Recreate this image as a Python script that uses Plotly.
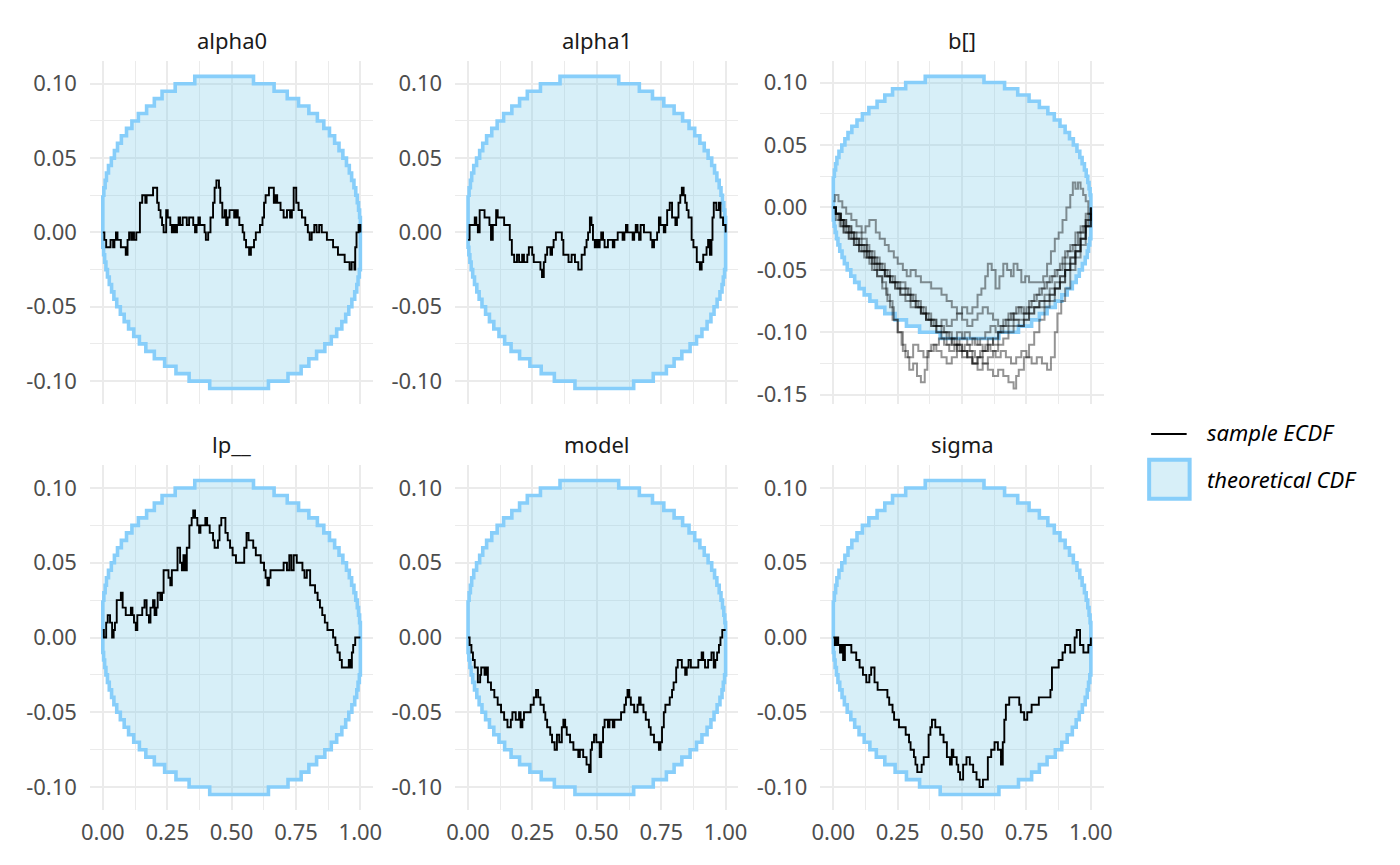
import plotly.graph_objects as go

# ---------------- data ----------------
panel_names = ["alpha0", "alpha1", "b[]", "lp__", "model", "sigma"]

# theoretical CDF band (step start x, level)
band_upper_x = [0.000, 0.004, 0.009, 0.014, 0.022, 0.033, 0.045, 0.057, 0.072, 0.092,
                0.113, 0.138, 0.170, 0.200, 0.230, 0.281, 0.357, 0.585, 0.665, 0.716,
                0.760, 0.800, 0.833, 0.858, 0.880, 0.900, 0.917, 0.932, 0.946, 0.957,
                0.966, 0.975, 0.982, 0.988, 0.993, 0.997]
band_upper_y = [0.025, 0.030, 0.035, 0.040, 0.045, 0.050, 0.055, 0.060, 0.065, 0.070,
                0.075, 0.080, 0.085, 0.090, 0.095, 0.100, 0.105, 0.100, 0.095, 0.090,
                0.085, 0.080, 0.075, 0.070, 0.065, 0.060, 0.055, 0.050, 0.045, 0.040,
                0.035, 0.030, 0.025, 0.020, 0.015, 0.010]
band_lower_x = [0.000, 0.003, 0.007, 0.012, 0.018, 0.025, 0.034, 0.043, 0.054, 0.068,
                0.083, 0.100, 0.120, 0.142, 0.167, 0.200, 0.240, 0.284, 0.335, 0.415,
                0.643, 0.719, 0.770, 0.800, 0.830, 0.862, 0.887, 0.908, 0.928, 0.943,
                0.955, 0.967, 0.978, 0.986, 0.991, 0.996]
band_lower_y = [-0.010, -0.015, -0.020, -0.025, -0.030, -0.035, -0.040, -0.045, -0.050, -0.055,
                -0.060, -0.065, -0.070, -0.075, -0.080, -0.085, -0.090, -0.095, -0.100, -0.105,
                -0.100, -0.095, -0.090, -0.085, -0.080, -0.075, -0.070, -0.065, -0.060, -0.055,
                -0.050, -0.045, -0.040, -0.035, -0.030, -0.025]

alpha0_x = [0, 0.006, 0.013, 0.030, 0.040, 0.045, 0.051, 0.057, 0.070, 0.089, 0.096, 0.102,
            0.110, 0.115, 0.121, 0.130, 0.144, 0.153, 0.165, 0.170, 0.195, 0.211, 0.217,
            0.224, 0.230, 0.236, 0.246, 0.252, 0.262, 0.268, 0.275, 0.281, 0.288, 0.294,
            0.300, 0.310, 0.326, 0.335, 0.351, 0.358, 0.364, 0.371, 0.377, 0.395, 0.400,
            0.409, 0.418, 0.428, 0.434, 0.441, 0.451, 0.456, 0.464, 0.473, 0.479, 0.485,
            0.492, 0.510, 0.517, 0.524, 0.530, 0.543, 0.549, 0.556, 0.568, 0.575, 0.587,
            0.594, 0.610, 0.620, 0.626, 0.632, 0.645, 0.664, 0.670, 0.677, 0.690, 0.702,
            0.715, 0.727, 0.734, 0.741, 0.751, 0.760, 0.773, 0.786, 0.796, 0.803, 0.811,
            0.821, 0.830, 0.840, 0.850, 0.870, 0.894, 0.913, 0.939, 0.958, 0.966, 0.977,
            0.980, 0.985, 0.993, 1.0]
alpha0_y = [0, -0.005, -0.01, -0.005, -0.01, -0.005, 0.0, -0.005, -0.01, -0.015, -0.005, 0.0,
            -0.005, 0.0, -0.005, 0.0, 0.02, 0.025, 0.02, 0.025, 0.03, 0.02, 0.015,
            0.01, 0.005, 0.0, 0.015, 0.01, 0.005, 0.0, 0.005, 0.0, 0.005, 0.01,
            0.005, 0.01, 0.005, 0.01, 0.005, 0.0, 0.005, 0.01, 0.005, 0.0, -0.005,
            0.0, 0.01, 0.02, 0.03, 0.035, 0.03, 0.02, 0.01, 0.015, 0.005, 0.01,
            0.015, 0.01, 0.015, 0.01, 0.005, 0.0, -0.005, -0.01, -0.015, -0.01, -0.005,
            0.0, 0.005, 0.01, 0.02, 0.025, 0.03, 0.02, 0.025, 0.02, 0.015, 0.01,
            0.015, 0.01, 0.015, 0.03, 0.02, 0.015, 0.01, 0.005, 0.0, -0.005, 0.0,
            0.005, 0.0, 0.005, 0.0, -0.005, -0.01, -0.015, -0.02, -0.025, -0.02, -0.025,
            -0.01, 0.0, 0.005, 0.0]

alpha1_x = [0, 0.006, 0.026, 0.032, 0.038, 0.045, 0.064, 0.083, 0.089, 0.096, 0.109, 0.115,
            0.140, 0.162, 0.170, 0.179, 0.190, 0.198, 0.210, 0.217, 0.230, 0.236, 0.249,
            0.255, 0.281, 0.287, 0.294, 0.300, 0.307, 0.320, 0.326, 0.332, 0.341, 0.364,
            0.370, 0.390, 0.402, 0.415, 0.428, 0.441, 0.453, 0.460, 0.466, 0.473, 0.479,
            0.485, 0.492, 0.498, 0.504, 0.511, 0.517, 0.524, 0.530, 0.543, 0.562, 0.568,
            0.581, 0.600, 0.607, 0.613, 0.619, 0.639, 0.645, 0.651, 0.658, 0.664, 0.670,
            0.683, 0.709, 0.715, 0.722, 0.734, 0.741, 0.747, 0.760, 0.766, 0.773, 0.783,
            0.792, 0.805, 0.811, 0.817, 0.824, 0.830, 0.837, 0.843, 0.849, 0.856, 0.868,
            0.875, 0.888, 0.900, 0.907, 0.913, 0.926, 0.932, 0.939, 0.945, 0.949, 0.954,
            0.964, 0.974, 0.980, 0.990, 1.0]
alpha1_y = [-0.005, 0.005, 0.01, 0.005, 0.0, 0.015, 0.01, 0.005, -0.005, 0.005, 0.015, 0.01,
            0.005, -0.005, -0.015, -0.02, -0.015, -0.02, -0.015, -0.02, -0.015, -0.01, -0.015,
            -0.02, -0.025, -0.03, -0.02, -0.015, -0.01, -0.015, -0.01, -0.005, 0.0, -0.005,
            -0.015, -0.02, -0.015, -0.02, -0.025, -0.015, -0.01, -0.005, 0.0, 0.01, 0.005,
            -0.005, -0.01, -0.005, -0.01, -0.005, 0.0, -0.005, -0.01, -0.005, -0.01, -0.005,
            0.0, -0.005, 0.0, 0.005, 0.0, -0.005, 0.0, 0.005, 0.0, -0.005, 0.005,
            0.0, -0.005, -0.01, -0.005, 0.0, 0.01, 0.005, 0.0, 0.005, 0.015, 0.02,
            0.01, 0.005, 0.01, 0.02, 0.025, 0.03, 0.025, 0.02, 0.015, 0.01, -0.005,
            -0.01, -0.02, -0.025, -0.02, -0.015, -0.01, -0.005, -0.015, -0.005, 0.01, 0.02,
            0.015, 0.02, 0.01, 0.005, 0.0]

lp_x = [0, 0.004, 0.013, 0.019, 0.028, 0.036, 0.042, 0.047, 0.054, 0.070, 0.077, 0.089,
        0.109, 0.115, 0.121, 0.128, 0.134, 0.153, 0.162, 0.170, 0.179, 0.185, 0.195,
        0.201, 0.208, 0.213, 0.223, 0.230, 0.236, 0.255, 0.262, 0.268, 0.290, 0.300,
        0.307, 0.313, 0.319, 0.326, 0.336, 0.345, 0.351, 0.358, 0.367, 0.374, 0.379,
        0.398, 0.405, 0.415, 0.428, 0.434, 0.447, 0.453, 0.460, 0.476, 0.485, 0.494,
        0.504, 0.517, 0.549, 0.558, 0.566, 0.584, 0.594, 0.613, 0.626, 0.632, 0.639,
        0.645, 0.651, 0.702, 0.715, 0.724, 0.732, 0.741, 0.753, 0.775, 0.783, 0.792,
        0.805, 0.824, 0.834, 0.843, 0.852, 0.862, 0.872, 0.894, 0.903, 0.911, 0.920,
        0.928, 0.955, 0.962, 0.967, 0.972, 0.980, 1.0]
lp_y = [0.005, 0.0, 0.01, 0.015, 0.01, 0.0, 0.005, 0.01, 0.025, 0.03, 0.02, 0.015,
        0.02, 0.015, 0.01, 0.005, 0.015, 0.02, 0.025, 0.015, 0.01, 0.02, 0.025,
        0.015, 0.02, 0.03, 0.025, 0.03, 0.045, 0.04, 0.035, 0.045, 0.06, 0.05,
        0.045, 0.055, 0.045, 0.06, 0.075, 0.08, 0.085, 0.08, 0.075, 0.07, 0.075,
        0.08, 0.075, 0.07, 0.065, 0.06, 0.065, 0.075, 0.08, 0.07, 0.065, 0.06,
        0.055, 0.05, 0.06, 0.07, 0.065, 0.06, 0.055, 0.05, 0.045, 0.04, 0.035,
        0.04, 0.045, 0.05, 0.045, 0.055, 0.045, 0.055, 0.05, 0.045, 0.04, 0.045,
        0.035, 0.03, 0.025, 0.02, 0.015, 0.01, 0.005, 0.0, -0.005, -0.01, -0.015,
        -0.02, -0.015, -0.02, -0.01, -0.005, 0.0, 0.0]

model_x = [0, 0.006, 0.013, 0.019, 0.026, 0.038, 0.047, 0.051, 0.064, 0.070, 0.077, 0.089,
           0.102, 0.115, 0.128, 0.140, 0.153, 0.166, 0.172, 0.185, 0.198, 0.204, 0.211,
           0.217, 0.243, 0.255, 0.264, 0.272, 0.281, 0.294, 0.300, 0.307, 0.319, 0.326,
           0.336, 0.345, 0.354, 0.364, 0.370, 0.377, 0.383, 0.396, 0.409, 0.428, 0.434,
           0.447, 0.460, 0.470, 0.476, 0.481, 0.489, 0.498, 0.511, 0.517, 0.524, 0.530,
           0.543, 0.549, 0.562, 0.568, 0.594, 0.607, 0.613, 0.619, 0.626, 0.632, 0.645,
           0.658, 0.664, 0.670, 0.681, 0.690, 0.702, 0.709, 0.722, 0.741, 0.747, 0.753,
           0.760, 0.766, 0.783, 0.792, 0.798, 0.808, 0.814, 0.830, 0.843, 0.849, 0.856,
           0.865, 0.894, 0.907, 0.913, 0.920, 0.932, 0.945, 0.954, 0.960, 0.967, 0.974,
           0.980, 0.987, 1.0]
model_y = [0.0, -0.005, -0.01, -0.015, -0.02, -0.03, -0.025, -0.02, -0.025, -0.02, -0.03, -0.035,
           -0.04, -0.045, -0.05, -0.055, -0.06, -0.055, -0.05, -0.055, -0.05, -0.06, -0.055,
           -0.05, -0.045, -0.04, -0.035, -0.04, -0.045, -0.05, -0.055, -0.06, -0.065, -0.07,
           -0.075, -0.065, -0.07, -0.06, -0.055, -0.06, -0.065, -0.07, -0.075, -0.08, -0.075,
           -0.08, -0.085, -0.09, -0.075, -0.07, -0.065, -0.07, -0.08, -0.07, -0.06, -0.055,
           -0.06, -0.055, -0.06, -0.055, -0.05, -0.045, -0.04, -0.035, -0.04, -0.045, -0.05,
           -0.045, -0.04, -0.045, -0.05, -0.055, -0.06, -0.065, -0.07, -0.075, -0.07, -0.06,
           -0.05, -0.045, -0.04, -0.035, -0.03, -0.02, -0.015, -0.02, -0.025, -0.02, -0.015,
           -0.02, -0.015, -0.01, -0.015, -0.02, -0.015, -0.01, -0.02, -0.015, -0.01, -0.005,
           0.0, 0.005, 0.005]

sigma_x = [0, 0.006, 0.013, 0.019, 0.026, 0.032, 0.038, 0.045, 0.070, 0.089, 0.102, 0.115,
           0.128, 0.140, 0.147, 0.160, 0.172, 0.210, 0.217, 0.230, 0.236, 0.255, 0.281,
           0.294, 0.300, 0.313, 0.319, 0.326, 0.343, 0.351, 0.370, 0.377, 0.383, 0.396,
           0.415, 0.428, 0.441, 0.453, 0.460, 0.466, 0.479, 0.485, 0.492, 0.504, 0.517,
           0.530, 0.543, 0.556, 0.568, 0.581, 0.600, 0.613, 0.626, 0.639, 0.651, 0.658,
           0.664, 0.670, 0.683, 0.722, 0.728, 0.741, 0.753, 0.770, 0.798, 0.843, 0.849,
           0.875, 0.890, 0.900, 0.920, 0.937, 0.945, 0.958, 0.971, 0.990, 1.0]
sigma_y = [0.0, -0.005, 0.0, -0.005, -0.01, -0.005, -0.015, -0.005, -0.01, -0.015, -0.02, -0.025,
           -0.03, -0.025, -0.02, -0.03, -0.035, -0.04, -0.045, -0.05, -0.055, -0.06, -0.065,
           -0.07, -0.075, -0.08, -0.085, -0.09, -0.085, -0.08, -0.065, -0.06, -0.055, -0.06,
           -0.065, -0.07, -0.08, -0.085, -0.075, -0.08, -0.085, -0.09, -0.095, -0.085, -0.08,
           -0.085, -0.09, -0.095, -0.1, -0.095, -0.08, -0.075, -0.07, -0.075, -0.085, -0.07,
           -0.055, -0.045, -0.04, -0.045, -0.05, -0.055, -0.05, -0.045, -0.04, -0.035, -0.02,
           -0.015, -0.01, -0.005, -0.01, 0.0, 0.005, -0.005, -0.01, -0.005, 0.0]

# b[] : several sample ECDF lines
b_x1 = [0, 0.006, 0.02, 0.035, 0.05, 0.07, 0.09, 0.11, 0.125, 0.14, 0.153, 0.165, 0.18,
        0.2, 0.215, 0.235, 0.25, 0.27, 0.285, 0.3, 0.32, 0.34, 0.36, 0.38, 0.4, 0.42,
        0.44, 0.46, 0.48, 0.5, 0.52, 0.54, 0.56, 0.575, 0.59, 0.6, 0.615, 0.63, 0.645,
        0.66, 0.675, 0.69, 0.7, 0.715, 0.73, 0.745, 0.76, 0.78, 0.8, 0.815, 0.83, 0.845,
        0.86, 0.875, 0.89, 0.905, 0.92, 0.93, 0.94, 0.95, 0.96, 0.97, 0.98, 0.99, 1.0]
b_y1 = [0.005, 0.01, 0.005, 0.0, -0.005, -0.01, -0.015, -0.02, -0.015, -0.01, -0.01, -0.02, -0.025,
        -0.03, -0.035, -0.04, -0.045, -0.05, -0.055, -0.05, -0.055, -0.06, -0.06, -0.065, -0.065, -0.07,
        -0.075, -0.08, -0.085, -0.08, -0.085, -0.08, -0.07, -0.065, -0.055, -0.045, -0.05, -0.065, -0.055,
        -0.045, -0.05, -0.055, -0.045, -0.05, -0.06, -0.055, -0.06, -0.06, -0.06, -0.055, -0.045, -0.035,
        -0.025, -0.02, -0.01, 0.0, 0.01, 0.02, 0.015, 0.02, 0.015, 0.01, 0.005, -0.005, -0.01]
b_x2 = [0, 0.01, 0.03, 0.05, 0.07, 0.09, 0.11, 0.13, 0.15, 0.17, 0.19, 0.205, 0.22, 0.235,
        0.25, 0.265, 0.28, 0.295, 0.31, 0.325, 0.34, 0.355, 0.365, 0.38, 0.4, 0.42, 0.44,
        0.46, 0.48, 0.5, 0.52, 0.54, 0.56, 0.58, 0.6, 0.62, 0.64, 0.66, 0.68, 0.7, 0.72,
        0.74, 0.76, 0.78, 0.8, 0.82, 0.84, 0.86, 0.88, 0.9, 0.92, 0.94, 0.96, 0.98, 1.0]
b_y2 = [0, -0.005, -0.01, -0.015, -0.02, -0.025, -0.03, -0.04, -0.045, -0.055, -0.06, -0.07, -0.08, -0.09,
        -0.1, -0.11, -0.12, -0.13, -0.125, -0.135, -0.14, -0.13, -0.115, -0.11, -0.115, -0.12, -0.125,
        -0.12, -0.11, -0.115, -0.12, -0.125, -0.12, -0.115, -0.105, -0.11, -0.1, -0.095, -0.09, -0.085, -0.08,
        -0.085, -0.075, -0.07, -0.065, -0.06, -0.055, -0.05, -0.045, -0.035, -0.03, -0.02, -0.015, -0.005, 0.0]
b_x3 = [0, 0.01, 0.03, 0.05, 0.07, 0.09, 0.11, 0.13, 0.15, 0.17, 0.19, 0.21, 0.23, 0.25,
        0.27, 0.29, 0.31, 0.33, 0.35, 0.37, 0.39, 0.41, 0.43, 0.45, 0.47, 0.49, 0.51, 0.53,
        0.55, 0.57, 0.59, 0.61, 0.63, 0.65, 0.67, 0.69, 0.71, 0.73, 0.75, 0.77, 0.79, 0.81,
        0.83, 0.85, 0.87, 0.89, 0.91, 0.93, 0.95, 0.97, 0.99, 1.0]
b_y3 = [0, -0.005, -0.015, -0.02, -0.025, -0.03, -0.035, -0.04, -0.05, -0.055, -0.065, -0.075, -0.09, -0.1,
        -0.115, -0.12, -0.11, -0.115, -0.12, -0.115, -0.11, -0.105, -0.11, -0.115, -0.11, -0.105, -0.1, -0.105,
        -0.11, -0.105, -0.1, -0.095, -0.1, -0.095, -0.09, -0.085, -0.08, -0.085, -0.08, -0.075, -0.07, -0.065,
        -0.06, -0.055, -0.05, -0.04, -0.035, -0.03, -0.02, -0.015, -0.005, 0.0]
b_x4 = [0, 0.01, 0.025, 0.04, 0.06, 0.08, 0.1, 0.12, 0.14, 0.16, 0.18, 0.2, 0.22, 0.24,
        0.26, 0.28, 0.3, 0.32, 0.34, 0.36, 0.38, 0.4, 0.42, 0.44, 0.46, 0.48, 0.5, 0.52,
        0.54, 0.56, 0.58, 0.6, 0.62, 0.64, 0.66, 0.68, 0.7, 0.71, 0.72, 0.74, 0.76, 0.78,
        0.8, 0.82, 0.84, 0.86, 0.88, 0.9, 0.92, 0.94, 0.96, 0.98, 1.0]
b_y4 = [0, -0.005, -0.01, -0.015, -0.02, -0.025, -0.03, -0.035, -0.04, -0.045, -0.05, -0.055, -0.06, -0.06,
        -0.065, -0.07, -0.075, -0.08, -0.085, -0.09, -0.095, -0.1, -0.1, -0.105, -0.11, -0.115, -0.12, -0.115,
        -0.125, -0.13, -0.125, -0.13, -0.135, -0.13, -0.135, -0.14, -0.145, -0.135, -0.13, -0.12, -0.11, -0.1,
        -0.09, -0.08, -0.075, -0.065, -0.055, -0.045, -0.04, -0.03, -0.02, -0.01, 0.0]
b_x5 = [0, 0.01, 0.03, 0.05, 0.07, 0.09, 0.11, 0.13, 0.15, 0.17, 0.19, 0.21, 0.23, 0.25,
        0.27, 0.29, 0.31, 0.33, 0.35, 0.37, 0.39, 0.41, 0.43, 0.45, 0.47, 0.49, 0.51, 0.53,
        0.55, 0.57, 0.59, 0.61, 0.63, 0.65, 0.67, 0.69, 0.71, 0.73, 0.75, 0.77, 0.79, 0.81,
        0.83, 0.845, 0.86, 0.87, 0.885, 0.9, 0.92, 0.94, 0.96, 0.98, 1.0]
b_y5 = [0, -0.005, -0.01, -0.015, -0.02, -0.02, -0.025, -0.035, -0.04, -0.045, -0.05, -0.055, -0.06, -0.065,
        -0.065, -0.07, -0.075, -0.08, -0.085, -0.09, -0.095, -0.095, -0.1, -0.105, -0.11, -0.115, -0.11, -0.115,
        -0.12, -0.115, -0.11, -0.115, -0.12, -0.115, -0.12, -0.125, -0.12, -0.115, -0.12, -0.125, -0.12, -0.125,
        -0.13, -0.12, -0.1, -0.085, -0.075, -0.065, -0.05, -0.04, -0.03, -0.015, -0.005]
b_x6 = [0, 0.01, 0.02, 0.04, 0.06, 0.08, 0.1, 0.12, 0.14, 0.16, 0.18, 0.2, 0.22, 0.24,
        0.26, 0.28, 0.3, 0.32, 0.34, 0.36, 0.38, 0.4, 0.42, 0.44, 0.46, 0.48, 0.5, 0.52,
        0.54, 0.56, 0.58, 0.6, 0.62, 0.64, 0.66, 0.68, 0.7, 0.72, 0.74, 0.76, 0.78, 0.8,
        0.82, 0.84, 0.86, 0.88, 0.9, 0.92, 0.94, 0.96, 0.98, 1.0]
b_y6 = [0, -0.005, -0.01, -0.015, -0.02, -0.025, -0.03, -0.03, -0.035, -0.04, -0.045, -0.05, -0.055, -0.06,
        -0.06, -0.065, -0.07, -0.075, -0.08, -0.085, -0.09, -0.095, -0.1, -0.1, -0.105, -0.1, -0.105, -0.11,
        -0.105, -0.11, -0.115, -0.11, -0.105, -0.1, -0.1, -0.095, -0.09, -0.09, -0.085, -0.08, -0.08, -0.075,
        -0.07, -0.065, -0.06, -0.055, -0.05, -0.045, -0.035, -0.025, -0.015, -0.005]
b_x7 = [0, 0.01, 0.025, 0.04, 0.06, 0.08, 0.1, 0.12, 0.14, 0.16, 0.18, 0.2, 0.22, 0.24,
        0.26, 0.28, 0.3, 0.32, 0.34, 0.36, 0.38, 0.4, 0.42, 0.44, 0.46, 0.48, 0.5, 0.52,
        0.54, 0.56, 0.58, 0.6, 0.62, 0.64, 0.66, 0.68, 0.7, 0.72, 0.74, 0.76, 0.78, 0.8,
        0.82, 0.84, 0.86, 0.88, 0.9, 0.92, 0.94, 0.96, 0.98, 1.0]
b_y7 = [0, -0.01, -0.015, -0.02, -0.025, -0.03, -0.035, -0.04, -0.045, -0.05, -0.05, -0.055, -0.06, -0.065,
        -0.07, -0.075, -0.08, -0.08, -0.085, -0.09, -0.09, -0.095, -0.09, -0.095, -0.09, -0.085, -0.09, -0.095,
        -0.09, -0.085, -0.08, -0.085, -0.09, -0.095, -0.09, -0.085, -0.09, -0.095, -0.09, -0.085, -0.08, -0.075,
        -0.075, -0.07, -0.065, -0.06, -0.05, -0.04, -0.035, -0.025, -0.015, 0.0]
b_x8 = [0, 0.01, 0.025, 0.04, 0.06, 0.08, 0.1, 0.12, 0.14, 0.16, 0.18, 0.2, 0.22, 0.24,
        0.26, 0.28, 0.3, 0.32, 0.34, 0.36, 0.38, 0.4, 0.42, 0.44, 0.46, 0.48, 0.5, 0.52,
        0.54, 0.56, 0.58, 0.6, 0.62, 0.64, 0.66, 0.68, 0.7, 0.72, 0.74, 0.76, 0.78, 0.8,
        0.82, 0.84, 0.86, 0.88, 0.9, 0.92, 0.94, 0.96, 0.98, 1.0]
b_y8 = [0, -0.005, -0.01, -0.02, -0.025, -0.03, -0.035, -0.035, -0.04, -0.045, -0.05, -0.055, -0.06, -0.065,
        -0.07, -0.07, -0.075, -0.08, -0.085, -0.09, -0.095, -0.1, -0.105, -0.11, -0.105, -0.11, -0.115, -0.12,
        -0.125, -0.12, -0.125, -0.12, -0.115, -0.11, -0.105, -0.1, -0.095, -0.095, -0.09, -0.085, -0.08, -0.08,
        -0.075, -0.07, -0.065, -0.06, -0.05, -0.045, -0.035, -0.025, -0.01, 0.0]

x_tick_vals = [0, 0.25, 0.5, 0.75, 1.0]
x_tick_text = ["0.00", "0.25", "0.50", "0.75", "1.00"]
y_tick_vals = [-0.10, -0.05, 0.0, 0.05, 0.10]
y_tick_text = ["-0.10", "-0.05", "0.00", "0.05", "0.10"]
b_tick_vals = [-0.15, -0.10, -0.05, 0.0, 0.05, 0.10]
b_tick_text = ["-0.15", "-0.10", "-0.05", "0.00", "0.05", "0.10"]

legend_labels = ["sample ECDF", "theoretical CDF"]

panel_lines = {
    "alpha0": [(alpha0_x, alpha0_y)],
    "alpha1": [(alpha1_x, alpha1_y)],
    "b[]": [(b_x1, b_y1), (b_x2, b_y2), (b_x3, b_y3), (b_x4, b_y4),
            (b_x5, b_y5), (b_x6, b_y6), (b_x7, b_y7), (b_x8, b_y8)],
    "lp__": [(lp_x, lp_y)],
    "model": [(model_x, model_y)],
    "sigma": [(sigma_x, sigma_y)],
}

# ---------------- figure ----------------
W, H = 1400, 865
FONT = "Noto Sans"
FS = 22
BAND_LINE = "rgb(135,206,250)"
BAND_FILL = "rgba(135,206,235,0.33)"
col_px = [(82, 369), (452, 739), (822, 1109)]
row_px = [(61, 406), (467, 814)]


def step_path(xs, ys, x_end=1.0):
    px, py = [], []
    for i in range(len(xs)):
        x1 = xs[i + 1] if i + 1 < len(xs) else x_end
        px += [xs[i], x1]
        py += [ys[i], ys[i]]
    return px, py


ux, uy = step_path(band_upper_x, band_upper_y)
lx, ly = step_path(band_lower_x, band_lower_y)
poly_x = ux + lx[::-1] + [ux[0]]
poly_y = uy + ly[::-1] + [uy[0]]

fig = go.Figure()
layout = dict(
    width=W, height=H, autosize=False,
    margin=dict(l=0, r=0, t=0, b=0),
    paper_bgcolor="white", plot_bgcolor="white",
    font=dict(family=FONT, size=FS, color="#4D4D4D"),
    showlegend=False,
    annotations=[], shapes=[],
)

for i, name in enumerate(panel_names):
    r, c = divmod(i, 3)
    k = i + 1
    xa = "x" if k == 1 else f"x{k}"
    ya = "y" if k == 1 else f"y{k}"
    is_b = name == "b[]"
    fig.add_trace(go.Scatter(
        x=poly_x, y=poly_y, xaxis=xa, yaxis=ya, mode="lines",
        fill="toself", fillcolor=BAND_FILL,
        line=dict(color=BAND_LINE, width=3.6),
        name="theoretical CDF", hoverinfo="skip"))
    for j, (lxs, lys) in enumerate(panel_lines[name]):
        fig.add_trace(go.Scatter(
            x=lxs, y=lys, xaxis=xa, yaxis=ya, mode="lines", line_shape="hv",
            line=dict(color="rgba(0,0,0,0.42)" if is_b else "black",
                      width=2 if is_b else 1.9),
            name="sample ECDF"))

    x0, x1 = col_px[c]
    y0, y1 = row_px[r]
    yr = [-0.1575, 0.1175] if is_b else [-0.1155, 0.1155]
    tv = b_tick_vals if is_b else y_tick_vals
    tt = b_tick_text if is_b else y_tick_text
    minor_y = [-0.125, -0.075, -0.025, 0.025, 0.075] if is_b else [-0.075, -0.025, 0.025, 0.075]
    layout["xaxis" if k == 1 else f"xaxis{k}"] = dict(
        domain=[x0 / W, x1 / W], range=[-0.05, 1.05], anchor=ya,
        tickmode="array", tickvals=x_tick_vals, ticktext=x_tick_text,
        showticklabels=(r == 1), ticks="", showline=False, zeroline=False,
        showgrid=True, gridcolor="#EBEBEB", gridwidth=1.5,
        ticklabelstandoff=7,
        tickfont=dict(family=FONT, size=FS, color="#4D4D4D"),
        minor=dict(tickmode="array", tickvals=[0.125, 0.375, 0.625, 0.875],
                   showgrid=True, gridcolor="#EBEBEB", gridwidth=0.8, ticks=""),
    )
    layout["yaxis" if k == 1 else f"yaxis{k}"] = dict(
        domain=[1 - y1 / H, 1 - y0 / H], range=yr, anchor=xa,
        tickmode="array", tickvals=tv, ticktext=tt,
        ticks="", showline=False, zeroline=False,
        showgrid=True, gridcolor="#EBEBEB", gridwidth=1.5,
        ticklabelstandoff=12,
        tickfont=dict(family=FONT, size=FS, color="#4D4D4D"),
        minor=dict(tickmode="array", tickvals=minor_y,
                   showgrid=True, gridcolor="#EBEBEB", gridwidth=0.8, ticks=""),
    )
    layout["annotations"].append(dict(
        text=name, xref="paper", yref="paper",
        x=(x0 + x1) / 2 / W, y=1 - (40 if r == 0 else 446) / H,
        xanchor="center", yanchor="middle", showarrow=False,
        font=dict(family=FONT, size=FS, color="#1A1A1A")))

# legend (drawn manually to get ggplot-style keys)
layout["shapes"].append(dict(
    type="line", xref="paper", yref="paper",
    x0=1157 / W, x1=1193 / W, y0=1 - 436 / H, y1=1 - 436 / H,
    line=dict(color="black", width=2)))
layout["shapes"].append(dict(
    type="rect", xref="paper", yref="paper",
    x0=1155 / W, x1=1196 / W, y0=1 - 501 / H, y1=1 - 462 / H,
    fillcolor=BAND_FILL, line=dict(color=BAND_LINE, width=4)))
for lab, ypx in zip(legend_labels, [434, 481]):
    layout["annotations"].append(dict(
        text=f"<i>{lab}</i>", xref="paper", yref="paper",
        x=1212 / W, y=1 - ypx / H, xanchor="left", yanchor="middle",
        showarrow=False, font=dict(family=FONT, size=FS, color="#000000")))

fig.update_layout(**layout)
fig.write_html("out.html", include_plotlyjs=True, full_html=True,
               config={"displayModeBar": False},
               post_script="document.body.style.margin='0';")
